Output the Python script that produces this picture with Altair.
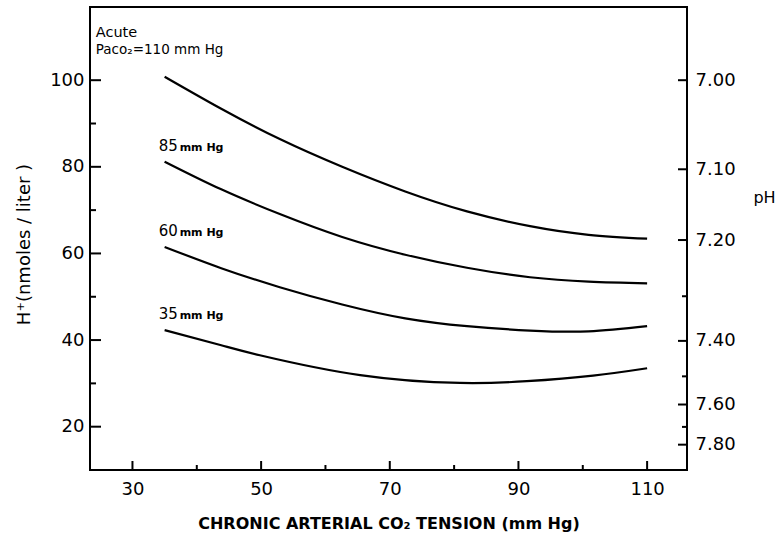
import altair as alt
import pandas as pd

# ---- data ----
# chronic arterial CO2 tension (mm Hg) and H+ (nmol/l) for each acute Paco2 curve
paco110_x = [35, 43.8, 52.9, 62.6, 72.4, 82.0, 91.8, 100.9, 110]
paco110_h = [100.8, 93.4, 86.4, 80.0, 74.3, 69.7, 66.3, 64.3, 63.4]
paco85_x = [35, 43.8, 52.9, 62.6, 72.4, 82.0, 91.8, 100.9, 110]
paco85_h = [81.2, 74.8, 69.1, 63.8, 59.7, 56.7, 54.5, 53.5, 53.1]
paco60_x = [35, 43.8, 52.9, 62.6, 72.4, 82.0, 91.8, 100.9, 110]
paco60_h = [61.5, 56.6, 52.2, 48.2, 45.0, 43.2, 42.2, 42.0, 43.2]
paco35_x = [35, 43.8, 49.8, 65.4, 80.9, 91.3, 101.6, 110]
paco35_h = [42.3, 38.8, 36.5, 31.9, 30.1, 30.5, 31.8, 33.5]

curve_labels = ["85", "60", "35"]  # labelled curves (110 has its own note)

x_major = [30, 50, 70, 90, 110]
x_minor = [40, 60, 80, 100]
h_major = [20, 40, 60, 80, 100]
h_minor = [30, 50, 70, 90]
ph_major = [7.00, 7.10, 7.20, 7.40, 7.60, 7.80]
ph_minor = [7.30, 7.50, 7.70]

note_title = "Acute"
note_title_x = 24.3
note_title_h = 109.9
note_sub = "Paco\u2082=110 mm Hg"
note_sub_x = 24.3
note_sub_h = 106.0

x_domain = [23.4, 116.2]
h_domain = [10.0, 116.9]

# ---- tables ----
rows = []
for name, xs, hs in [("110", paco110_x, paco110_h), ("85", paco85_x, paco85_h),
                     ("60", paco60_x, paco60_h), ("35", paco35_x, paco35_h)]:
    for i, (xv, hv) in enumerate(zip(xs, hs)):
        rows.append({"curve": name, "x": xv, "h": hv, "order": i})
curves = pd.DataFrame(rows)

starts = curves[(curves["order"] == 0) & (curves["curve"].isin(curve_labels))].copy()
note1 = pd.DataFrame({"x": [note_title_x], "h": [note_title_h], "text": [note_title]})
note2 = pd.DataFrame({"x": [note_sub_x], "h": [note_sub_h], "text": [note_sub]})

W, H = 597, 463
FONT = "DejaVu Sans"

x_scale = alt.Scale(domain=x_domain, nice=False, zero=False)
h_scale = alt.Scale(domain=h_domain, nice=False, zero=False)

x_axis = alt.Axis(values=x_major, ticks=False, grid=False, domain=False,
                  labelFontSize=18, labelPadding=10, labelFlush=False,
                  labelColor="black", labelFont=FONT,
                  title="CHRONIC ARTERIAL CO\u2082 TENSION (mm Hg)",
                  titleFontSize=16, titleFontWeight="bold", titleFont=FONT,
                  titleColor="black", titleY=58, titleBaseline="alphabetic")

left_axis = alt.Axis(values=h_major, orient="left", ticks=False, grid=False,
                     domain=False, labelFontSize=18, labelPadding=6,
                     labelColor="black", labelFont=FONT,
                     title="H\u207a(nmoles / liter )", titleFontSize=18,
                     titleFontWeight="normal", titleFont=FONT, titleColor="black",
                     titleAngle=270, titleX=-66, titleY=237,
                     titleAlign="center", titleBaseline="middle")

right_axis = alt.Axis(values=[10 ** (9 - p) for p in ph_major], orient="right",
                      labelExpr="format(9 - log(datum.value)/LN10, '.2f')",
                      ticks=False, grid=False, domain=False,
                      labelFontSize=18, labelPadding=8, labelColor="black",
                      labelFont=FONT, labelFlush=False,
                      title="pH", titleFontSize=16, titleFontWeight="normal",
                      titleFont=FONT, titleColor="black", titleAngle=0,
                      titleX=77, titleY=190, titleAlign="center",
                      titleBaseline="middle")

X = alt.X("x:Q", scale=x_scale, axis=x_axis)

lines = alt.Chart(curves).mark_line(color="black", strokeWidth=2.2,
                                    interpolate="natural").encode(
    x=X,
    y=alt.Y("h:Q", scale=h_scale, axis=left_axis),
    detail="curve:N",
    order="order:Q",
)

# inward tick marks
def hticks(values, x0, x1):
    df = pd.DataFrame({"h": values})
    return alt.Chart(df).mark_rule(color="black", strokeWidth=2).encode(
        y=alt.Y("h:Q", scale=h_scale, axis=None),
        x=alt.value(x0), x2=alt.value(x1))

def xticks(values, length):
    df = pd.DataFrame({"x": values})
    return alt.Chart(df).mark_rule(color="black", strokeWidth=2).encode(
        x=X, y=alt.value(H), y2=alt.value(H - length))

left_major = hticks(h_major, 0, 11)
left_minor = hticks(h_minor, 0, 6)

ph_major_df = pd.DataFrame({"h": [10 ** (9 - p) for p in ph_major]})
ph_minor_df = pd.DataFrame({"h": [10 ** (9 - p) for p in ph_minor]})
right_major = alt.Chart(ph_major_df).mark_rule(color="black", strokeWidth=2).encode(
    y=alt.Y("h:Q", scale=h_scale, axis=right_axis),
    x=alt.value(W - 9), x2=alt.value(W))
right_minor = alt.Chart(ph_minor_df).mark_rule(color="black", strokeWidth=2).encode(
    y=alt.Y("h:Q", scale=h_scale, axis=None),
    x=alt.value(W - 5), x2=alt.value(W))

bottom_major = xticks(x_major, 9)
bottom_minor = xticks(x_minor, 5)

num_labels = alt.Chart(starts).mark_text(
    align="left", baseline="alphabetic", dx=-6, dy=-11,
    fontSize=15, font=FONT, color="black").encode(
    x=X, y=alt.Y("h:Q", scale=h_scale, axis=None), text="curve:N")

unit_labels = alt.Chart(starts).mark_text(
    align="left", baseline="alphabetic", dx=15, dy=-11,
    fontSize=11, font=FONT, fontWeight="bold", color="black").encode(
    x=X, y=alt.Y("h:Q", scale=h_scale, axis=None), text=alt.value("mm Hg"))

note_a = alt.Chart(note1).mark_text(
    align="left", baseline="alphabetic", fontSize=14.5, font=FONT,
    color="black").encode(
    x=X, y=alt.Y("h:Q", scale=h_scale, axis=None), text="text:N")

note_b = alt.Chart(note2).mark_text(
    align="left", baseline="alphabetic", fontSize=13.5, font=FONT,
    color="black").encode(
    x=X, y=alt.Y("h:Q", scale=h_scale, axis=None), text="text:N")

chart = alt.layer(
    lines, right_major, right_minor, left_major, left_minor,
    bottom_major, bottom_minor, num_labels, unit_labels, note_a, note_b
).resolve_scale(y="independent").properties(
    width=W, height=H,
    background="white",
    autosize=alt.AutoSizeParams(type="none"),
    padding={"left": 90, "top": 7, "right": 92, "bottom": 65},
).configure_view(stroke="black", strokeWidth=2)

chart.save("out.html", embed_options={"renderer": "svg", "actions": False})
